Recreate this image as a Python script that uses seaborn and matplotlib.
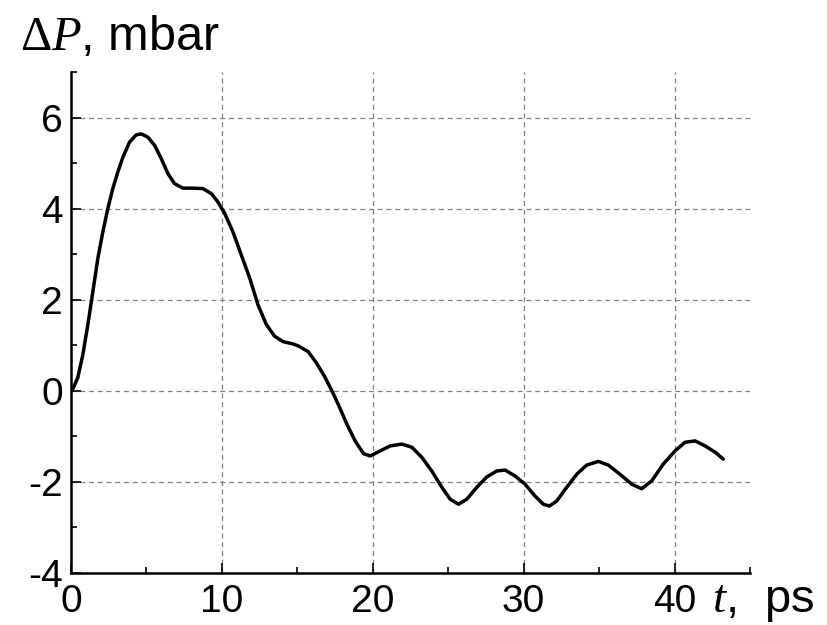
import matplotlib
matplotlib.use("Agg")
import matplotlib.pyplot as plt
from matplotlib.ticker import MultipleLocator
import pandas as pd
import seaborn as sns

# Pressure change versus time
t_ps = [0.0, 0.12, 0.45, 0.79, 1.12, 1.45, 1.78, 2.11, 2.44, 2.77, 3.1, 3.44,
        3.88, 4.32, 4.66, 5.09, 5.54, 5.98, 6.42, 6.86, 7.41, 8.08, 8.74, 9.3,
        9.73, 10.18, 10.73, 11.29, 11.84, 12.39, 12.94, 13.49, 14.05, 14.71,
        15.1, 15.72, 16.27, 16.8, 17.35, 17.85, 18.28, 18.83, 19.39, 19.83,
        20.49, 21.15, 21.93, 22.59, 23.25, 23.91, 24.58, 25.13, 25.68, 26.23,
        26.89, 27.56, 28.22, 28.77, 29.43, 30.09, 30.75, 31.3, 31.7, 32.19,
        32.85, 33.52, 34.18, 34.95, 35.61, 36.38, 37.16, 37.82, 38.48, 39.25,
        40.03, 40.69, 41.36, 42.03, 42.7, 43.23]
dp_mbar = [0.0, 0.04, 0.29, 0.8, 1.46, 2.18, 2.91, 3.49, 4.0, 4.44, 4.8, 5.13,
           5.46, 5.62, 5.64, 5.57, 5.39, 5.1, 4.77, 4.55, 4.45, 4.45, 4.44, 4.33,
           4.15, 3.9, 3.49, 2.98, 2.48, 1.89, 1.46, 1.2, 1.08, 1.03,
           0.98, 0.86, 0.61, 0.32, -0.04, -0.4, -0.73, -1.1, -1.38, -1.43,
           -1.32, -1.21, -1.17, -1.24, -1.46, -1.76, -2.12, -2.38, -2.49, -2.38,
           -2.12, -1.89, -1.76, -1.74, -1.87, -2.05, -2.31, -2.49, -2.53, -2.42,
           -2.12, -1.83, -1.63, -1.55, -1.63, -1.83, -2.05, -2.15, -1.98, -1.61,
           -1.32, -1.13, -1.1, -1.21, -1.35, -1.5]

x_ticks = [0, 10, 20, 30, 40]
y_ticks = [-4, -2, 0, 2, 4, 6]

sns.set_style("ticks")
plt.rcParams["axes.unicode_minus"] = False
plt.rcParams["text.color"] = "black"
plt.rcParams["font.family"] = ["Liberation Sans", "DejaVu Sans"]
plt.rcParams["mathtext.fontset"] = "custom"
plt.rcParams["mathtext.rm"] = "Liberation Serif"
plt.rcParams["mathtext.it"] = "Liberation Serif:italic"

df = pd.DataFrame({"t": t_ps, "dp": dp_mbar})

fig = plt.figure(figsize=(8.27, 6.25), dpi=100)
ax = fig.add_axes([71 / 827, 1 - 573 / 625, 679 / 827, 501 / 625])

sns.lineplot(data=df, x="t", y="dp", ax=ax, color="black", linewidth=2.5,
             sort=False, zorder=3)
for ln in ax.get_lines():
    ln.set_solid_joinstyle("round")
    ln.set_solid_capstyle("round")

ax.set_xlim(0, 45)
ax.set_ylim(-4, 7)
ax.set_xticks(x_ticks)
ax.set_yticks(y_ticks)
ax.set_xticklabels([str(v) for v in x_ticks])
ax.set_yticklabels([str(v) for v in y_ticks])
ax.xaxis.set_minor_locator(MultipleLocator(5))
ax.yaxis.set_minor_locator(MultipleLocator(1))
ax.set_xlabel("")
ax.set_ylabel("")

for side in ("top", "right"):
    ax.spines[side].set_visible(False)
for side in ("left", "bottom"):
    ax.spines[side].set_linewidth(1.8)
    ax.spines[side].set_color("black")

ax.tick_params(which="major", direction="in", length=7, width=1.2,
               labelsize=28, colors="black")
ax.tick_params(which="minor", direction="in", length=4, width=1.2, colors="black")
ax.tick_params(axis="x", which="major", pad=8)
ax.tick_params(axis="y", which="major", pad=6)

ax.grid(True, which="major", color="#808080", linestyle=(0, (4, 3)),
        linewidth=0.9, zorder=1)
ax.set_axisbelow(True)

# Axis titles
fig.text(20 / 827, 1 - 50 / 625, r"$\Delta P$, mbar", fontsize=35,
         color="black", ha="left", va="baseline")
fig.text(712 / 827, 1 - 612 / 625, r"$t$,  ps", fontsize=34,
         color="black", ha="left", va="baseline")

fig.savefig("out.png", dpi=100, facecolor="white")
